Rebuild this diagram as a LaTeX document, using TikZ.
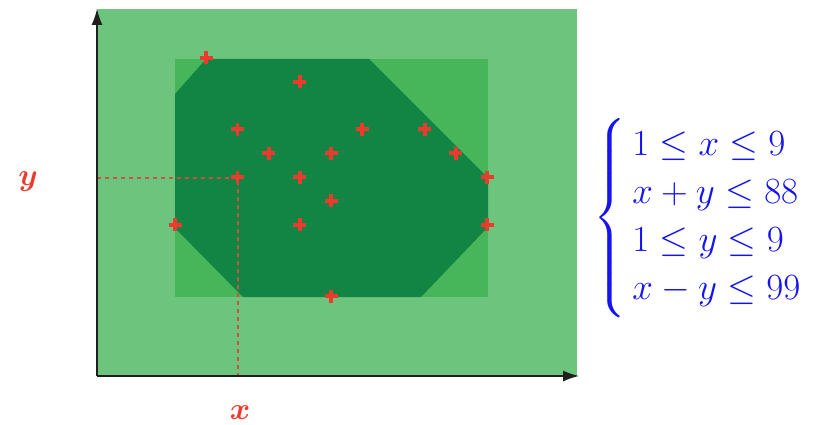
\RequirePackage{fix-cm}
\documentclass[tikz,border=0pt]{standalone}
\usepackage{amsmath,amssymb}
\usetikzlibrary{arrows.meta}
\definecolor{lightg}{HTML}{6DC47C}
\definecolor{midg}{HTML}{47B65A}
\definecolor{darkg}{HTML}{128443}
\definecolor{crossred}{HTML}{EE3A2C}
\definecolor{dashred}{HTML}{C8553D}
\definecolor{eqblue}{HTML}{1414F0}
\tikzset{
  crossmark/.style={draw=crossred, line width=3.8pt},
  axisline/.style={draw=black!88, line width=1.4pt, -{Latex[length=16pt,width=11pt]}},
  guide/.style={draw=dashred, line width=1.1pt, dash pattern=on 4pt off 4pt},
  axislabel/.style={text=crossred, font=\fontsize{31}{36}\selectfont},
}
\begin{document}
\begin{tikzpicture}[x=1pt,y=-1pt]
\useasboundingbox (0,0) rectangle (816,425);
% regions
\fill[lightg] (97,9) rectangle (577,376);
\fill[midg] (175,59) rectangle (488,297);
\fill[darkg] (206,59) -- (369,59) -- (488,178) -- (488,227) -- (421,297)
  -- (243,297) -- (175,228) -- (175,94) -- cycle;
% guides
\coordinate (px) at (238,376);
\coordinate (py) at (97,178);
\coordinate (pt) at (238,178);
\draw[guide] (py) -- (pt) -- (px);
% axes
\coordinate (o) at (97,376);
\coordinate (xe) at (579,376);
\coordinate (ye) at (97,9);
\draw[axisline] (o) -- (xe);
\draw[axisline] (o) -- (ye);
% crosses
\foreach \i/\j in {1/10,4/9,2/7,6/7,8/7,3/6,5/6,9/6,2/5,4/5,10/5,5/4,0/3,4/3,10/3,5/0}{
  \pgfmathsetmacro{\cx}{175+31.2*\i}
  \pgfmathsetmacro{\cy}{296-23.8*\j}
  \draw[crossmark] (\cx-6.5,\cy) -- (\cx+6.5,\cy) (\cx,\cy-6.5) -- (\cx,\cy+6.5);
}
% labels
\node[axislabel] (ylab) at (28,182) {$\boldsymbol{y}$};
\node[axislabel] (xlab) at (240,413) {$\boldsymbol{x}$};
\node[text=eqblue, anchor=west, inner sep=0pt, font=\fontsize{37}{40}\selectfont] (eqs) at (593,218)
  {$\renewcommand{\arraystretch}{1.2}\left\{\begin{array}{@{\,}l}
    1\leq x\leq 9\\
    x+y\leq 88\\
    1\leq y\leq 9\\
    x-y\leq 99
  \end{array}\right.$};
\end{tikzpicture}
\end{document}
